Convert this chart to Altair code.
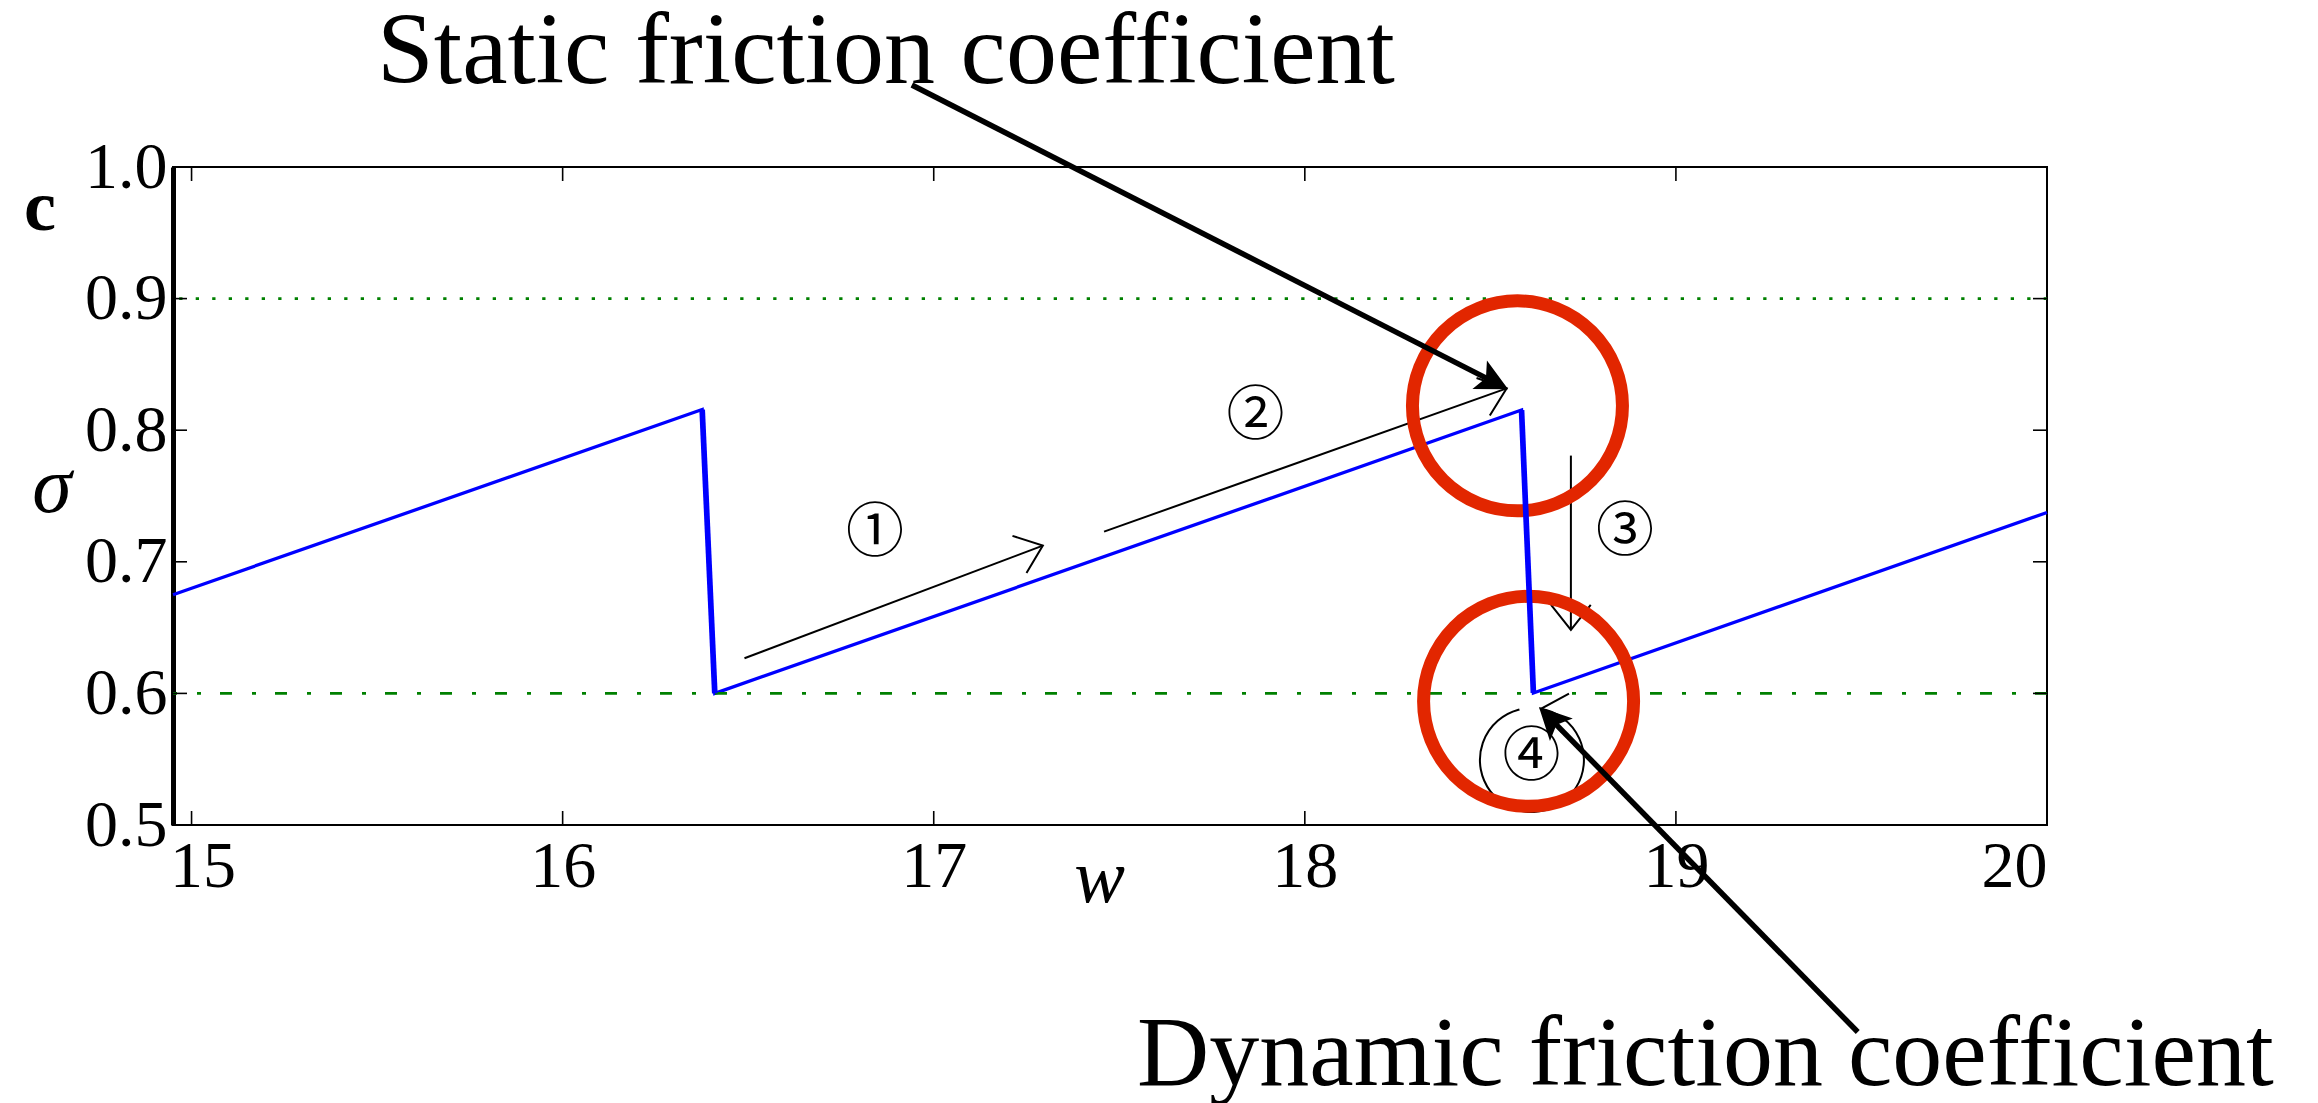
import math
import altair as alt
import pandas as pd

# ---- plot geometry (pixels) and axis ranges ----
W, H = 1874, 658
X_DOMAIN = [14.95, 20.0]
Y_DOMAIN = [0.5, 1.0]
PX_PER_W = W / (X_DOMAIN[1] - X_DOMAIN[0])
PX_PER_SIGMA = H / (Y_DOMAIN[1] - Y_DOMAIN[0])

SERIF = "Liberation Serif"
CIRCLED = "Noto Sans CJK JP"
RED = "#e22600"
TICK_LEN = 14
RING_R = 105

# ---- stick-slip stress curve ----
w_vals = [14.95, 16.376, 16.41, 18.584, 18.616, 20.0]
sigma_vals = [0.675, 0.8157, 0.600, 0.8153, 0.6003, 0.7375]

# ---- friction levels ----
static_level = [0.9]
dynamic_level = [0.6]

xticks = [15, 16, 17, 18, 19, 20]
yticks = [0.5, 0.6, 0.7, 0.8, 0.9, 1.0]

# ---- highlighted regions ----
circle_w = [18.573, 18.603]
circle_sigma = [0.8185, 0.594]

# ---- callouts ----
callout_text = ["Static friction coefficient", "Dynamic friction coefficient"]
callout_w = [15.500, 17.548]
callout_sigma = [1.0638, 0.3024]

big_tail_w = [16.941, 19.490]
big_tail_sigma = [1.0623, 0.3427]
big_tip_w = [18.548, 18.631]
big_tip_sigma = [0.8311, 0.5897]

# ---- numbered steps ----
step_tail_w = [16.490, 17.459, 18.717]
step_tail_sigma = [0.6267, 0.7229, 0.7807]
step_tip_w = [17.294, 18.544, 18.717]
step_tip_sigma = [0.7123, 0.8318, 0.6483]

step_labels = ["①", "②", "③", "④"]
step_label_w = [16.842, 17.867, 18.863, 18.611]
step_label_sigma = [0.7211, 0.8098, 0.7221, 0.5509]

# loop around step 4 (centre, radius in px, start/end angle in degrees clockwise from 12 o'clock)
loop_center_w = [18.612]
loop_center_sigma = [0.5494]
LOOP_R = 52
LOOP_END_DEG = 10
LOOP_START_DEG = 345


def screen_angle(x0, y0, x1, y1):
    """Clockwise angle from 'up' of the on-screen direction x0,y0 -> x1,y1."""
    dx = (x1 - x0) * PX_PER_W
    dy = -(y1 - y0) * PX_PER_SIGMA
    return math.degrees(math.atan2(dx, -dy)) % 360


def pull_back(x0, y0, x1, y1, px):
    """Point `px` pixels before x1,y1 along the segment."""
    dx = (x1 - x0) * PX_PER_W
    dy = (y1 - y0) * PX_PER_SIGMA
    f = px / math.hypot(dx, dy)
    return x1 - (x1 - x0) * f, y1 - (y1 - y0) * f


xs = alt.Scale(domain=X_DOMAIN, nice=False, zero=False)
ys = alt.Scale(domain=Y_DOMAIN, nice=False, zero=False)

x_axis = alt.Axis(values=xticks, format="d", title=None, labelFont=SERIF, labelFontSize=66,
                  labelColor="black", labelPadding=9, ticks=False, tickSize=0, domain=False,
                  grid=False, labelFlush=True, labelOverlap=False,
                  labelOffset=alt.condition("datum.value == 15", alt.value(11), alt.value(0)))
y_axis = alt.Axis(values=yticks, format=".1f", title=None, labelFont=SERIF, labelFontSize=66,
                  labelColor="black", labelPadding=6, ticks=False, tickSize=0, domain=True,
                  domainColor="black", domainWidth=5, grid=False, labelFlush=False,
                  labelOverlap=False)


def X(f):
    return alt.X(f, type="quantitative", scale=xs, axis=x_axis)


def Y(f):
    return alt.Y(f, type="quantitative", scale=ys, axis=y_axis)


# ---- tables ----
curve = pd.DataFrame({"w": w_vals, "sigma": sigma_vals, "i": list(range(len(w_vals)))})

drop_rows = []
for k in range(len(w_vals) - 1):
    if sigma_vals[k + 1] < sigma_vals[k]:
        drop_rows.append({"w": w_vals[k], "sigma": sigma_vals[k],
                          "w2": w_vals[k + 1], "sigma2": sigma_vals[k + 1]})
drops = pd.DataFrame(drop_rows)

circles = pd.DataFrame({"w": circle_w, "sigma": circle_sigma})

big_rows = []
for a, b, c, d in zip(big_tail_w, big_tail_sigma, big_tip_w, big_tip_sigma):
    ew, es = pull_back(a, b, c, d, 18)
    big_rows.append({"w": a, "sigma": b, "w2": ew, "sigma2": es, "tw": c, "ts": d,
                     "angle": screen_angle(a, b, c, d)})
big = pd.DataFrame(big_rows)

step_rows = []
for a, b, c, d in zip(step_tail_w, step_tail_sigma, step_tip_w, step_tip_sigma):
    step_rows.append({"w": a, "sigma": b, "w2": c, "sigma2": d,
                      "angle": screen_angle(a, b, c, d)})
steps = pd.DataFrame(step_rows)

th = math.radians(LOOP_END_DEG)
loop_tip = pd.DataFrame({
    "w": [loop_center_w[0] + LOOP_R * math.sin(th) / PX_PER_W],
    "sigma": [loop_center_sigma[0] + LOOP_R * math.cos(th) / PX_PER_SIGMA],
    "angle": [math.degrees(math.atan2(-math.cos(th), math.sin(th))) % 360],
})
loop_center = pd.DataFrame({"w": loop_center_w, "sigma": loop_center_sigma})

callouts = pd.DataFrame({"w": callout_w, "sigma": callout_sigma, "label": callout_text})
step_text = pd.DataFrame({"w": step_label_w, "sigma": step_label_sigma, "label": step_labels})

OPEN_HEAD = "M-0.62,0.78 L0,0 L0.62,0.78"
FILLED_HEAD = "M0,0 L0.5,1 L0,0.78 L-0.5,1 Z"

# ---- layers ----
static_rule = alt.Chart(pd.DataFrame({"v": static_level})).mark_rule(
    color="green", strokeWidth=2.6, strokeDash=[3.3, 13.2]).encode(y=Y("v"))
dynamic_rule = alt.Chart(pd.DataFrame({"v": dynamic_level})).mark_rule(
    color="green", strokeWidth=2.6, strokeDash=[12, 19, 4, 20]).encode(y=Y("v"))

step_shafts = alt.Chart(steps).mark_rule(color="black", strokeWidth=2).encode(
    x=X("w"), y=Y("sigma"), x2="w2", y2="sigma2")
step_heads = alt.Chart(steps).mark_point(
    shape=OPEN_HEAD, size=4 * 32 ** 2, filled=False, color="black", strokeWidth=2,
    opacity=1).encode(x=X("w2"), y=Y("sigma2"), angle=alt.Angle("angle:Q", scale=None))

loop_arc = alt.Chart(loop_center).mark_arc(
    radius=LOOP_R, radius2=LOOP_R - 0.01, theta=math.radians(LOOP_END_DEG),
    theta2=math.radians(LOOP_START_DEG), stroke="black", strokeWidth=2,
    fillOpacity=0).encode(x=X("w"), y=Y("sigma"))
loop_head = alt.Chart(loop_tip).mark_point(
    shape=OPEN_HEAD, size=4 * 32 ** 2, filled=False, color="black", strokeWidth=2,
    opacity=1).encode(x=X("w"), y=Y("sigma"), angle=alt.Angle("angle:Q", scale=None))

rings = alt.Chart(circles).mark_point(
    shape="circle", size=(2 * RING_R) ** 2, filled=False, color=RED, strokeWidth=13,
    opacity=1).encode(x=X("w"), y=Y("sigma"))

curve_line = alt.Chart(curve).mark_line(
    color="blue", strokeWidth=3.3, strokeJoin="miter").encode(
    x=X("w"), y=Y("sigma"), order="i:Q")
drop_lines = alt.Chart(drops).mark_rule(color="blue", strokeWidth=5.7).encode(
    x=X("w"), y=Y("sigma"), x2="w2", y2="sigma2")

big_shafts = alt.Chart(big).mark_rule(color="black", strokeWidth=5.5).encode(
    x=X("w"), y=Y("sigma"), x2="w2", y2="sigma2")
big_heads = alt.Chart(big).mark_point(
    shape=FILLED_HEAD, size=4 * 32 ** 2, filled=True, color="black", strokeWidth=0,
    opacity=1).encode(x=X("tw"), y=Y("ts"), angle=alt.Angle("angle:Q", scale=None))

static_callout = alt.Chart(callouts).transform_filter(
    alt.datum.label == callout_text[0]).mark_text(
    font=SERIF, fontSize=102, align="left", baseline="alphabetic", color="black").encode(
    x=X("w"), y=Y("sigma"), text="label:N")
dynamic_callout = alt.Chart(callouts).transform_filter(
    alt.datum.label == callout_text[1]).mark_text(
    font=SERIF, fontSize=100, align="left", baseline="alphabetic", color="black").encode(
    x=X("w"), y=Y("sigma"), text="label:N")
step_text_layer = alt.Chart(step_text).mark_text(
    font=CIRCLED, fontSize=58, align="center", baseline="middle", color="black").encode(
    x=X("w"), y=Y("sigma"), text="label:N")

sigma_name = alt.Chart(pd.DataFrame({"w": [14.624], "sigma": [0.7378], "t": ["σ"]})).mark_text(
    font=SERIF, fontSize=80, fontStyle="italic", align="center", baseline="alphabetic",
    color="black").encode(x=X("w"), y=Y("sigma"), text="t:N")
w_name = alt.Chart(pd.DataFrame({"w": [17.447], "sigma": [0.4415], "t": ["w"]})).mark_text(
    font=SERIF, fontSize=76, fontStyle="italic", align="center", baseline="alphabetic",
    color="black").encode(x=X("w"), y=Y("sigma"), text="t:N")
panel_tag = alt.Chart(pd.DataFrame({"w": [14.5915], "sigma": [0.9521], "t": ["c"]})).mark_text(
    font=SERIF, fontSize=72, fontWeight="bold", align="center", baseline="alphabetic",
    color="black").encode(x=X("w"), y=Y("sigma"), text="t:N")

# inward ticks on all four sides
xt = pd.DataFrame({"t": xticks})
yt = pd.DataFrame({"t": yticks})
tick_style = dict(color="black", strokeWidth=1.6)
ticks_bottom = alt.Chart(xt).mark_rule(**tick_style).encode(
    x=X("t"), y=alt.value(H), y2=alt.value(H - TICK_LEN))
ticks_top = alt.Chart(xt).mark_rule(**tick_style).encode(
    x=X("t"), y=alt.value(0), y2=alt.value(TICK_LEN))
ticks_left = alt.Chart(yt).mark_rule(**tick_style).encode(
    y=Y("t"), x=alt.value(0), x2=alt.value(TICK_LEN))
ticks_right = alt.Chart(yt).mark_rule(**tick_style).encode(
    y=Y("t"), x=alt.value(W), x2=alt.value(W - TICK_LEN))

chart = alt.layer(
    curve_line, static_rule, dynamic_rule,
    step_shafts, step_heads, loop_arc, loop_head,
    rings, drop_lines,
    big_shafts, big_heads,
    static_callout, dynamic_callout, step_text_layer, sigma_name, w_name, panel_tag,
    ticks_bottom, ticks_top, ticks_left, ticks_right,
).properties(
    width=W, height=H,
    autosize=alt.AutoSizeParams(type="none"),
    padding={"left": 173, "top": 167, "right": 271, "bottom": 278},
    background="white",
).configure_view(stroke="black", strokeWidth=2)

chart.save("out.html", embed_options={"renderer": "svg", "actions": False})
